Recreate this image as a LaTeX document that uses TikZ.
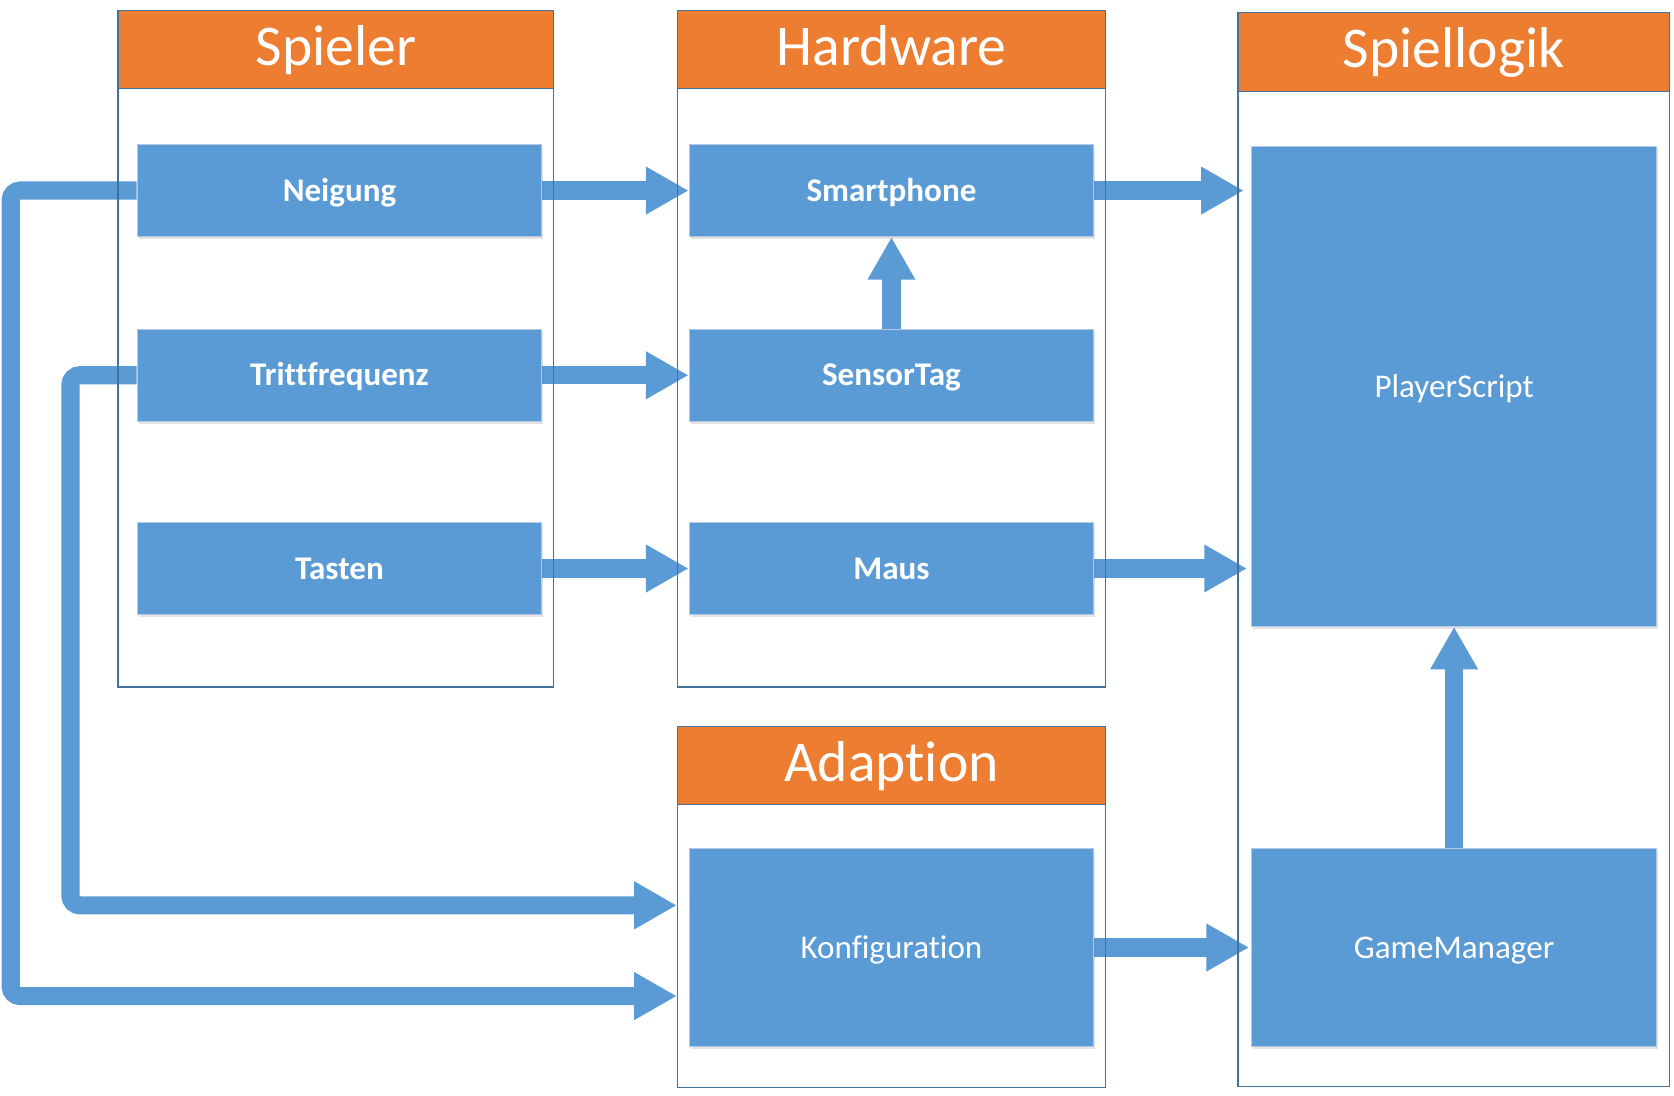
\documentclass[tikz,border=0pt]{standalone}
\usepackage{fontspec}
\setmainfont{Carlito}[Ligatures={NoCommon,TeX}]
\usepackage{tikz}
\usetikzlibrary{arrows.meta,shadows}
\definecolor{boxblue}{HTML}{5B9BD5}
\definecolor{headorange}{HTML}{ED7D31}
\definecolor{laneblue}{HTML}{41719C}
\definecolor{boxedge}{HTML}{B4C7E7}
\pgfdeclarelayer{back}
\pgfsetlayers{back,main}
\tikzset{
	lane/.style={draw=laneblue, line width=1.3pt, anchor=north west, inner sep=0pt},
	head/.style={lane, fill=headorange, text=white, minimum height=73pt,
		text height=38pt, text depth=8pt, font=\fontsize{54}{60}\selectfont},
	box/.style={fill=boxblue, draw=boxedge, line width=1pt, anchor=north west,
		inner sep=0pt, text=white, minimum width=379pt, minimum height=86pt,
		text height=23pt, text depth=3pt, font=\fontsize{31}{36}\selectfont,
		drop shadow={shadow xshift=1.5pt, shadow yshift=-2.5pt, opacity=.18, fill=black!60}},
	bbox/.style={box, font=\fontsize{31}{36}\selectfont\bfseries},
	flow/.style={draw=boxblue, line width=17pt, rounded corners=9pt,
		-{Triangle[length=40pt,width=42pt]}},
}

\begin{document}
\begin{tikzpicture}[x=1pt,y=-1pt]
			\useasboundingbox (0,0) rectangle (1568,1026);
			% lanes
			\node[lane, minimum width=408pt, minimum height=634pt] (spielerF) at (110,9) {};
			\node[lane, minimum width=401pt, minimum height=634pt] (hardF) at (634,9) {};
			\node[lane, minimum width=404pt, minimum height=1006pt] (logikF) at (1159,11) {};
			\node[lane, minimum width=401pt, minimum height=338pt] (adaptF) at (634,680) {};
			\node[head, minimum width=408pt] (spielerH) at (110,9) {Spieler};
			\node[head, minimum width=401pt] (hardH) at (634,9) {Hardware};
			\node[head, minimum width=404pt, minimum height=74pt] (logikH) at (1159,11) {Spiellogik};
			\node[head, minimum width=401pt] (adaptH) at (634,680) {Adaption};
			% boxes
			\node[bbox] (neigung) at (128,135) {Neigung};
			\node[bbox] (tritt) at (128,308) {Trittfrequenz};
			\node[bbox] (tasten) at (128,489) {Tasten};
			\node[bbox] (smart) at (645,135) {Smartphone};
			\node[bbox] (sensor) at (645,308) {SensorTag};
			\node[bbox] (maus) at (645,489) {Maus};
			\node[box, minimum height=449pt] (player) at (1172,137) {PlayerScript};
			\node[box, minimum height=186pt] (gm) at (1172,794) {GameManager};
			\node[box, minimum height=186pt] (konf) at (645,794) {Konfiguration};
			\coordinate (bendN) at (10,933);
			\coordinate (bendT) at (66,848);
			\coordinate (konfA) at (634,848);
			\coordinate (konfB) at (634,933);
			\begin{pgfonlayer}{back}
				\draw[flow] (neigung.east) -- (smart.west);
				\draw[flow] (tritt.east) -- (sensor.west);
				\draw[flow] (tasten.east) -- (maus.west);
				\draw[flow, shorten >=7pt] (smart.east) -- (smart.east -| player.west);
				\draw[flow, shorten >=4pt] (maus.east) -- (maus.east -| player.west);
				\draw[flow, shorten >=2pt] (konf.east) -- (gm.west);
				\draw[flow] (sensor.north) -- (smart.south);
				\draw[flow] (gm.north) -- (player.south);
				\draw[flow] (tritt.west) -| (bendT) -- (konfA);
				\draw[flow] (neigung.west) -| (bendN) -- (konfB);
			\end{pgfonlayer}
		\end{tikzpicture}
\end{document}
